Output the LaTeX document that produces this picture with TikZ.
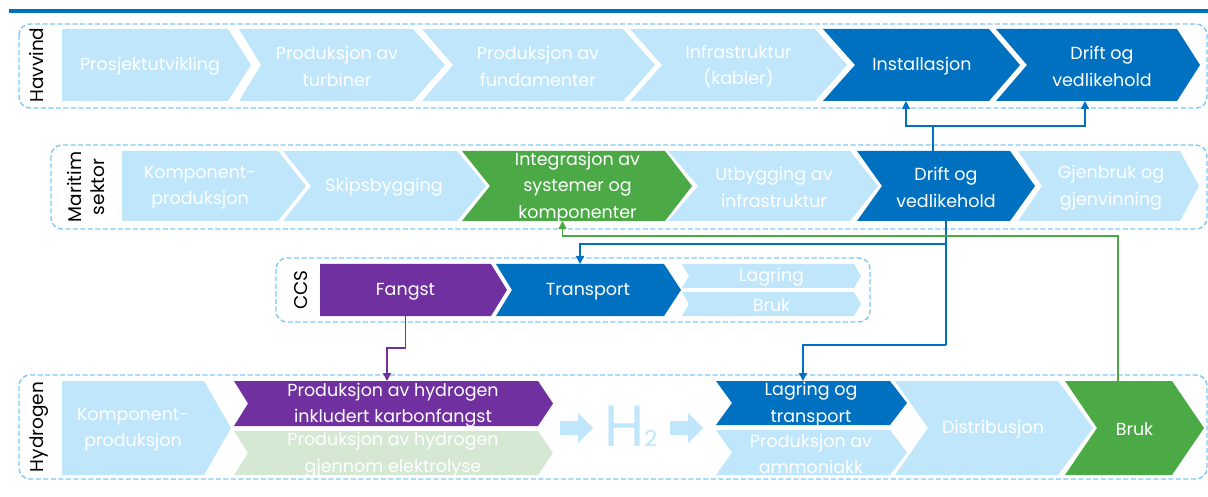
\documentclass[tikz,border=0pt]{standalone}
\usepackage{fontspec}
\setmainfont{Poppins}
\usetikzlibrary{arrows.meta,calc}

\definecolor{cLight}{RGB}{192,230,252}
\definecolor{cDark}{RGB}{0,112,192}
\definecolor{cPurple}{RGB}{112,48,160}
\definecolor{cGreen}{RGB}{76,170,70}
\definecolor{cPale}{RGB}{213,232,212}
\definecolor{cDash}{RGB}{125,200,245}

% chevron: name, left, tip, top, bottom, notch, tip depth, fill, text
\newcommand{\chev}[9]{%
  \fill[#8] (#2,#4) -- ({#3-#7},#4) -- (#3,{(#4+#5)/2}) -- ({#3-#7},#5) -- (#2,#5) -- ({#2+#6},{(#4+#5)/2}) -- cycle;
  \node[chevbox, minimum width={#3-#7-#2-#6}, minimum height={#5-#4}, label={[chevtext]center:{#9}}] (#1) at ({(#2+#6+#3-#7)/2},{(#4+#5)/2}) {};
}

\begin{document}
\begin{tikzpicture}[x=1pt,y=-1pt,>={Triangle[width=8pt,length=8pt]},
    group/.style={draw=cDash, dash pattern=on 5pt off 2.5pt, line width=1.4pt, rounded corners=11pt},
    chevbox/.style={inner sep=0pt, outer sep=0pt},
    chevtext/.style={text=white, align=center, inner sep=0pt, yshift=-1.5pt, font=\fontsize{17.5}{26.5}\selectfont},
    sidelbl/.style={rotate=90, align=center, inner sep=0pt, font=\fontsize{18.5}{23}\selectfont},
    link/.style={line width=1.3pt}]
        \useasboundingbox (0,0) rectangle (1208,497);
        \draw[cDark, line width=3.5pt] (9,11) -- (1208,11);

        % group frames
        \draw[group] (19,24) rectangle (1207,108);
        \draw[group] (51,145) rectangle (1207,229);
        \draw[group] (276,258) rectangle (870,322);
        \draw[group] (19,375) rectangle (1207,479);

        \node[sidelbl] (Lhav) at (37,65) {Havvind};
        \node[sidelbl] (Lmar) at (86,187) {Maritim\\sektor};
        \node[sidelbl] (Lccs) at (301,290) {CCS};
        \node[sidelbl] (Lhyd) at (39,427) {Hydrogen};

        % Havvind
        \chev{hv1}{62}{251}{29}{101}{0}{23}{cLight}{\hspace*{10pt}Prosjektutvikling}
        \chev{hv2}{239}{445}{29}{101}{22}{32}{cLight}{Produksjon av\\turbiner}
        \chev{hv3}{422}{655}{29}{101}{31}{32}{cLight}{Produksjon av\\fundamenter}
        \chev{hv4}{630}{847}{29}{101}{32}{32}{cLight}{Infrastruktur\\(kabler)}
        \chev{hv5}{823}{1020}{29}{101}{32}{31}{cDark}{Installasjon}
        \chev{hv6}{996}{1200}{29}{101}{31}{23}{cDark}{Drift og\\vedlikehold}

        % Maritim sektor
        \chev{ms1}{122}{306}{151}{221}{0}{28}{cLight}{Komponent-\\produksjon}
        \chev{ms2}{283}{486}{151}{221}{28}{29}{cLight}{Skipsbygging}
        \chev{ms3}{462}{692}{151}{221}{28}{27}{cGreen}{Integrasjon av\\systemer og\\komponenter}
        \chev{ms4}{668}{878}{151}{221}{30}{28}{cLight}{Utbygging av\\infrastruktur}
        \chev{ms5}{857}{1035}{151}{221}{25}{25}{cDark}{Drift og\\vedlikehold}
        \chev{ms6}{1018}{1199}{151}{221}{24}{19}{cLight}{Gjenbruk og\\gjenvinning}

        % CCS
        \chev{ccs1}{320}{507}{264}{316}{0}{16}{cPurple}{Fangst}
        \chev{ccs2}{496}{681}{264}{316}{16}{17}{cDark}{Transport}
        \chev{ccs3}{682}{861}{264}{288}{7}{7}{cLight}{Lagring}
        \chev{ccs4}{682}{861}{292}{316}{7}{7}{cLight}{Bruk}

        % Hydrogen
        \chev{hy1}{62}{231}{381}{475}{0}{27}{cLight}{Komponent-\\produksjon}
        \chev{hy2}{234}{553}{381}{426}{14}{15}{cPurple}{Produksjon av hydrogen\\inkludert karbonfangst}
        \chev{hy3}{234}{553}{431}{475}{14}{15}{cPale}{Produksjon av hydrogen\\gjennom elektrolyse}
        \chev{hy5}{716}{907}{381}{425}{16}{17}{cDark}{Lagring og\\transport}
        \chev{hy6}{716}{907}{430}{475}{16}{17}{cLight}{Produksjon av\\ammoniakk}
        \chev{hy7}{895}{1093}{381}{475}{33}{35}{cLight}{Distribusjon}
        \chev{hy8}{1065}{1204}{381}{475}{32}{32}{cGreen}{Bruk}

        \foreach \ax in {560,670}
            \fill[cLight] (\ax,421) -- ++(18,0) -- ++(0,-8) -- ++(15,15) -- ++(-15,15) -- ++(0,-8) -- ++(-18,0) -- cycle;
        \node[text=cLight, inner sep=0pt, font=\fontsize{58}{58}\selectfont] (htwo) at (631,426) {H{\fontsize{22}{22}\selectfont 2}};

        % connectors
        \coordinate (hvfork) at ($(ms5.north)+(-13,-25)$);
        \coordinate (ccsrail) at ($(ms5.south)+(0,23)$);
        \coordinate (hyrail) at ($(ms5.south)+(0,124)$);
        \coordinate (fbend) at ($(ccs1.south)+(0,32)$);
        \coordinate (brail) at ($(hy8.north)+(-16.5,-145)$);

        \path[draw,link,cDark,->] (ms5.north -| hvfork) -- (hvfork) -| ($(hv5.south)+(-16,0)$);
        \path[draw,link,cDark,->] (hvfork) -| ($(hv6.south)+(-17,0)$);
        \path[draw,link,cDark] (ms5.south) -- (hyrail);
        \path[draw,link,cDark,->] (ccsrail) -| ($(ccs2.north)+(-8,0)$);
        \path[draw,link,cDark,->] (hyrail) -| ($(hy5.north)+(-8,0)$);
        \path[draw,link,cPurple,->] (ccs1.south) -- (fbend) -| ($(hy2.north)+(-6,0)$);
        \path[draw,link,cGreen,->] ($(hy8.north)+(-16.5,0)$) -- (brail) -| ($(ms3.south)+(-15,0)$);
    \end{tikzpicture}
\end{document}
